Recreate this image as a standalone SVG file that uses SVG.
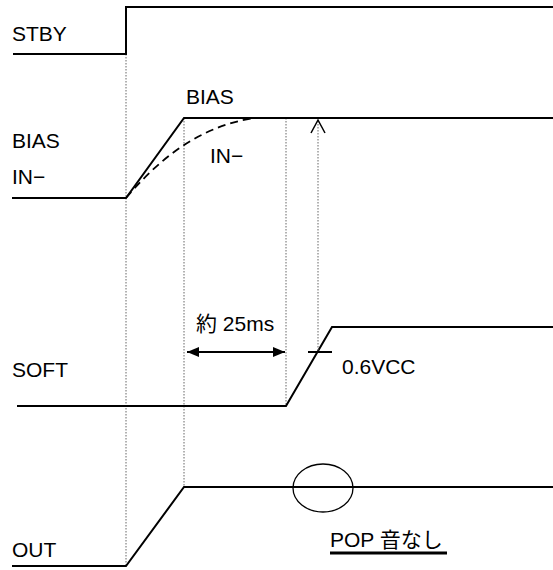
<svg xmlns="http://www.w3.org/2000/svg" width="553" height="570" viewBox="0 0 553 570">
<style>
.sig{fill:none;stroke:#000;stroke-width:2;stroke-linejoin:miter}
.dot{fill:none;stroke:#666;stroke-width:1;stroke-dasharray:1.5,1.5}
.dash{fill:none;stroke:#000;stroke-width:1.8;stroke-dasharray:8,5}
.t{font-family:"Liberation Sans",Arial,"Noto Sans CJK JP",sans-serif;font-size:21px;fill:#000}
</style>
<defs>
<marker id="ah" viewBox="0 0 12 10" refX="12" refY="5" markerWidth="12" markerHeight="10" markerUnits="userSpaceOnUse" orient="auto-start-reverse">
<path d="M0,0 L12,5 L0,10 Z" fill="#000"/>
</marker>
</defs>
<rect width="553" height="570" fill="#fff"/>
<g id="guides">
<line class="dot" x1="126" y1="54" x2="126" y2="566"/>
<line class="dot" x1="184" y1="118" x2="184" y2="487"/>
<line class="dot" x1="286" y1="118" x2="286" y2="406"/>
</g>
<g id="stby">
<polyline class="sig" points="13,54 126,54 126,7 553,7"/>
<text class="t" x="12" y="41">STBY</text>
</g>
<g id="bias">
<polyline class="sig" points="12,198 126,198 184,118 553,118"/>
<path class="dash" d="M126,198 C160,158 200,126 255,118"/>
<text class="t" x="12" y="148">BIAS</text>
<text class="t" x="12" y="184">IN−</text>
<text class="t" x="186" y="104">BIAS</text>
<text class="t" x="210" y="163">IN−</text>
</g>
<g id="soft">
<polyline class="sig" points="17,406 286,406 332,327 553,327"/>
<text class="t" x="12" y="377">SOFT</text>
<line class="sig" x1="308" y1="352" x2="332" y2="352" stroke-width="1.6"/>
<text class="t" x="342" y="374">0.6VCC</text>
</g>
<g id="out">
<polyline class="sig" points="12,566 126,566 184,487 553,487"/>
<text class="t" x="12" y="557">OUT</text>
<ellipse cx="323" cy="488" rx="30" ry="24" fill="none" stroke="#000" stroke-width="1.3"/>
<text class="t" x="330" y="547">POP 音なし</text>
<line x1="330" y1="553" x2="447" y2="553" stroke="#000" stroke-width="3"/>
</g>
<g id="connectors">
<line class="sig" x1="187" y1="352" x2="285" y2="352" marker-start="url(#ah)" marker-end="url(#ah)"/>
<text class="t" x="196" y="331">約 25ms</text>
<line class="dot" x1="318" y1="121" x2="318" y2="352"/>
<polyline fill="none" stroke="#000" stroke-width="1.5" points="311,133 318,120 325,133"/>
</g>
</svg>
